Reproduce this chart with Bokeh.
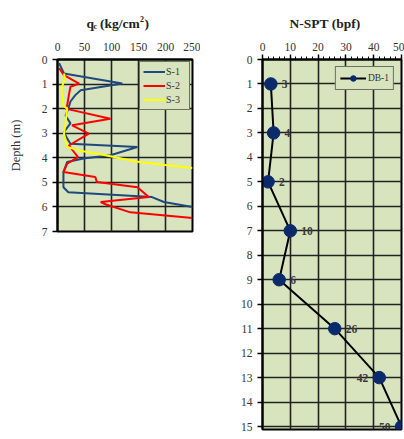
from bokeh.plotting import figure
from bokeh.models import Range1d, FixedTicker, Legend, LegendItem, ColumnDataSource
from bokeh.layouts import row, column
from bokeh.core.properties import value
from bokeh.embed import file_html
from bokeh.resources import INLINE

# ---- CPT data (qc in kg/cm2 vs depth in m) ----
s1_depth = [0.15, 0.57, 0.98, 1.25, 1.45, 1.71, 2.0, 2.28, 2.6, 2.95, 3.22, 3.43, 3.56, 3.9, 4.03, 4.17, 4.58, 5.2, 5.4, 5.6, 5.8, 6.0]
s1_qc    = [3, 12, 120, 43, 33, 24, 20, 15, 24, 12, 18, 24, 148, 98, 48, 18, 11, 11, 20, 175, 197, 250]

s2_depth = [0.35, 0.64, 0.98, 1.11, 1.45, 1.86, 2.0, 2.41, 2.68, 3.02, 3.5, 3.97, 4.24, 4.58, 4.78, 4.99, 5.2, 5.6, 5.8, 5.9, 6.22, 6.45]
s2_qc    = [3, 12, 40, 24, 21, 18, 15, 98, 27, 58, 21, 38, 18, 11, 70, 73, 148, 169, 80, 90, 135, 250]

s3_depth = [0.57, 0.77, 1.18, 1.59, 1.86, 2.0, 2.55, 3.02, 3.56, 3.7, 3.9, 4.15, 4.3, 4.42]
s3_qc    = [12, 14, 7, 10, 10, 18, 15, 12, 18, 40, 89, 145, 203, 250]

# ---- SPT data ----
spt_depth = [1, 3, 5, 7, 9, 11, 13, 15]
spt_n     = [3, 4, 2, 10, 6, 26, 42, 50]

qc_ticks = [0, 50, 100, 150, 200, 250]
depth_ticks_cpt = [0, 1, 2, 3, 4, 5, 6, 7]
n_ticks = [0, 10, 20, 30, 40, 50]
depth_ticks_spt = list(range(16))

FONT = "Liberation Serif"
BG = "#d7e4bd"
GRID = "#222222"
TXT = "#333333"
TH = 34  # height of the title strip


def style(p):
    p.background_fill_color = BG
    p.border_fill_color = "white"
    p.outline_line_color = "black"
    p.outline_line_width = 2
    for g in (p.xgrid[0], p.ygrid[0]):
        g.grid_line_color = GRID
        g.grid_line_width = 1.6
    for ax in (p.xaxis[0], p.yaxis[0]):
        ax.axis_line_color = "black"
        ax.axis_line_width = 2
        ax.major_tick_line_color = "black"
        ax.major_tick_line_width = 1.5
        ax.major_tick_out = 5
        ax.major_tick_in = 0
        ax.major_label_text_font = FONT
        ax.major_label_text_font_size = "11.5px"
        ax.major_label_text_color = TXT
        ax.major_label_standoff = 5


# ================= Title strip =================
pt = figure(width=404, height=TH, x_range=Range1d(0, 404), y_range=Range1d(TH, 0),
            x_axis_type=None, y_axis_type=None, output_backend="svg", toolbar_location=None,
            min_border=0, outline_line_color=None)
pt.xgrid.visible = False
pt.ygrid.visible = False
yb = 23
for txt, px, dy, size in [("q", 86, 0, "13.5px"), ("c", 93, 3, "8px"),
                          ("(kg/cm", 99.5, 0, "13.5px"), ("2", 139.5, -5, "8px"), (")", 144, 0, "13.5px")]:
    pt.text(x=[px], y=[yb + dy], text=[txt], text_font=value(FONT), text_font_style="bold",
            text_font_size=size, text_color="#222222", text_baseline="alphabetic", text_align="left")
pt.text(x=[324.5], y=[yb], text=["N-SPT (bpf)"], text_font=value(FONT), text_font_style="bold",
        text_font_size="13.5px", text_color="#222222", text_baseline="alphabetic", text_align="center")

# ================= Left: CPT =================
p1 = figure(width=200, height=240 - TH, x_range=Range1d(0, 250), y_range=Range1d(7, 0),
            x_axis_location="above", output_backend="svg", toolbar_location=None,
            min_border_left=57, min_border_right=8, min_border_top=59 - TH, min_border_bottom=9)
style(p1)
p1.xaxis[0].ticker = FixedTicker(ticks=qc_ticks)
p1.yaxis[0].ticker = FixedTicker(ticks=depth_ticks_cpt)
p1.xaxis[0].major_tick_out = 0
p1.xaxis[0].major_label_standoff = 9
p1.yaxis[0].axis_label = "Depth (m)"
p1.yaxis[0].axis_label_text_font = FONT
p1.yaxis[0].axis_label_text_font_style = "normal"
p1.yaxis[0].axis_label_text_font_size = "12.5px"
p1.yaxis[0].axis_label_text_color = TXT
p1.yaxis[0].axis_label_standoff = 16

r1 = p1.line(s1_qc, s1_depth, line_color="#1f497d", line_width=2)
r2 = p1.line(s2_qc, s2_depth, line_color="#ff0000", line_width=2)
r3 = p1.line(s3_qc, s3_depth, line_color="#ffff00", line_width=2)

leg1 = Legend(items=[LegendItem(label="S-1", renderers=[r1]),
                     LegendItem(label="S-2", renderers=[r2]),
                     LegendItem(label="S-3", renderers=[r3])],
              location="top_right", margin=2, padding=3, spacing=1,
              glyph_width=22, glyph_height=13, label_height=13, label_standoff=1,
              label_text_font=FONT, label_text_font_size="10px", label_text_color=TXT,
              border_line_color="black", border_line_width=1.5,
              background_fill_color=BG, background_fill_alpha=1)
p1.add_layout(leg1)

# ================= Right: SPT =================
p2 = figure(width=204, height=438 - TH, x_range=Range1d(0, 50), y_range=Range1d(15.12, 0),
            x_axis_location="above", output_backend="svg", toolbar_location=None,
            min_border_left=62, min_border_right=3, min_border_top=57 - TH, min_border_bottom=3)
style(p2)
p2.xaxis[0].ticker = FixedTicker(ticks=n_ticks, minor_ticks=list(range(0, 51, 2)))
p2.xaxis[0].minor_tick_line_color = "black"
p2.xaxis[0].minor_tick_out = 3
p2.xaxis[0].minor_tick_in = 0
p2.xaxis[0].major_label_standoff = 4
p2.yaxis[0].ticker = FixedTicker(ticks=depth_ticks_spt)

src = ColumnDataSource(dict(n=spt_n, d=spt_depth, lab=[str(v) for v in spt_n],
                            off=[-11 if v >= 40 else 11 for v in spt_n],
                            al=["right" if v >= 40 else "left" for v in spt_n]))
lr = p2.line("n", "d", source=src, line_color="black", line_width=2)
sr = p2.scatter("n", "d", source=src, size=12.5, fill_color="#0b2a6b", line_color="#0b2a6b")
p2.text("n", "d", text="lab", source=src, x_offset="off", text_align="al",
        text_baseline="middle", text_font=value(FONT), text_font_size="11.5px",
        text_font_style="bold", text_color="#3a3a3a")

leg2 = Legend(items=[LegendItem(label="DB-1", renderers=[lr, sr])],
              location="top_right", margin=7, padding=4, spacing=0,
              glyph_width=26, glyph_height=14, label_height=14, label_standoff=2,
              label_text_font=FONT, label_text_font_size="9.5px", label_text_color=TXT,
              border_line_color="black", border_line_width=1.5,
              background_fill_color=BG, background_fill_alpha=1)
p2.add_layout(leg2)

layout = column(pt, row(p1, p2))
open("out.html", "w").write(file_html(layout, INLINE))
